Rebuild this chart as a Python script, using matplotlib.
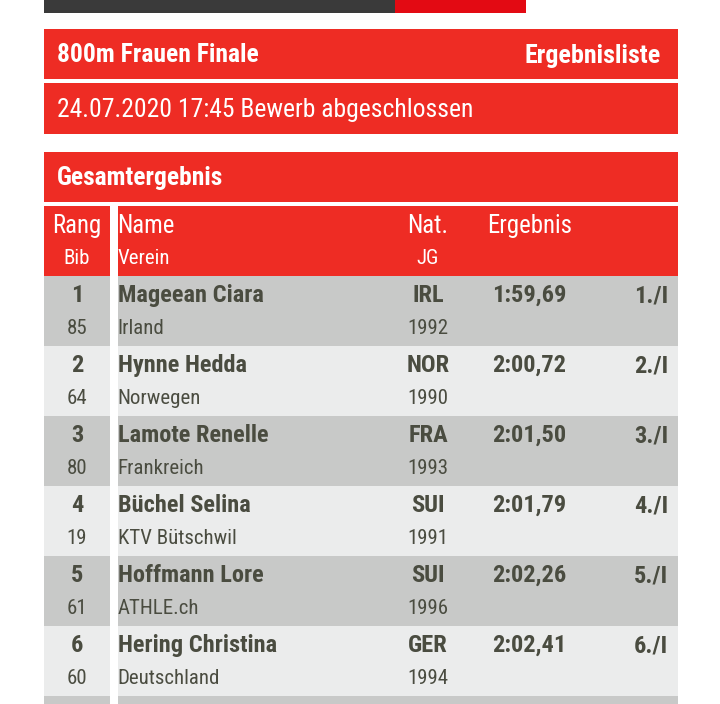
import matplotlib.pyplot as plt
from matplotlib.patches import Rectangle

ranks = ['1', '2', '3', '4', '5', '6']
bibs = ['85', '64', '80', '19', '61', '60']
names = ['Mageean Ciara', 'Hynne Hedda', 'Lamote Renelle', 'Büchel Selina', 'Hoffmann Lore', 'Hering Christina']
clubs = ['Irland', 'Norwegen', 'Frankreich', 'KTV Bütschwil', 'ATHLE.ch', 'Deutschland']
nations = ['IRL', 'NOR', 'FRA', 'SUI', 'SUI', 'GER']
years = ['1992', '1990', '1993', '1991', '1996', '1994']
results = ['1:59,69', '2:00,72', '2:01,50', '2:01,79', '2:02,26', '2:02,41']
places = ['1./I', '2./I', '3./I', '4./I', '5./I', '6./I']

RED = '#ee2c24'
DARK = '#4a4c40'
GREY = '#c8c9c8'
LIGHT = '#ebecec'
FONT = 'Roboto Condensed'


def box(ax, x0, x1, y0, y1, color):
    ax.add_patch(Rectangle((x0, y0), x1-x0, y1-y0, color=color, lw=0))


def label(ax, x, y, s, size, color='white', bold=False, ha='left'):
    ax.text(x, y, s, fontsize=size, color=color, ha=ha, va='center_baseline', family=FONT,
            fontweight='bold' if bold else 'normal')


fig = plt.figure(figsize=(7.2, 7.04), dpi=100)
ax = fig.add_axes([0, 0, 1, 1])
ax.set_xlim(0, 720)
ax.set_ylim(704, 0)
ax.axis('off')

# top bar, cut off by the screenshot
box(ax, 44, 395, 0, 13, '#3a3a3a')
box(ax, 395, 526, 0, 13, '#e30a13')

# title blocks
box(ax, 44, 678, 29, 79, RED)
box(ax, 44, 678, 83, 134, RED)
box(ax, 44, 678, 152, 202, RED)
label(ax, 57, 53, '800m Frauen Finale', 18.4, bold=True)
label(ax, 661, 53, 'Ergebnisliste', 18.7, bold=True, ha='right')
label(ax, 57, 107, '24.07.2020 17:45 Bewerb abgeschlossen', 18.45)
label(ax, 57, 176, 'Gesamtergebnis', 18.4, bold=True)

# table header
box(ax, 44, 110, 206, 276, RED)
box(ax, 118, 678, 206, 276, RED)
label(ax, 77, 223.4, 'Rang', 17.8, ha='center')
label(ax, 117.5, 223.4, 'Name', 17.8)
label(ax, 428, 223.4, 'Nat.', 17.8, ha='center')
label(ax, 529.5, 223.4, 'Ergebnis', 17.8, ha='center')
label(ax, 77, 256.5, 'Bib', 15, ha='center')
label(ax, 117.5, 256.5, 'Verein', 15)
label(ax, 428, 256.5, 'JG', 15, ha='center')

# rows, last one runs off the screenshot
for i in range(len(ranks)+1):
    top = 276 + 70*i
    color = GREY if i % 2 == 0 else LIGHT
    box(ax, 44, 110, top, top+70, color)
    box(ax, 118, 678, top, top+70, color)
    if i == len(ranks):
        break
    label(ax, 77, top+17.2, ranks[i], 17.6, DARK, True, 'center')
    label(ax, 117.5, top+17.2, names[i], 17.6, DARK, True)
    label(ax, 428, top+17.2, nations[i], 17.6, DARK, True, 'center')
    label(ax, 529.5, top+17.2, results[i], 17.6, DARK, True, 'center')
    label(ax, 668, top+17.2, places[i], 17.6, DARK, True, 'right')
    label(ax, 77, top+50.5, bibs[i], 15, DARK, ha='center')
    label(ax, 117.5, top+50.5, clubs[i], 15, DARK)
    label(ax, 428, top+50.5, years[i], 15, DARK, ha='center')

fig.savefig('out.png', dpi=100)
